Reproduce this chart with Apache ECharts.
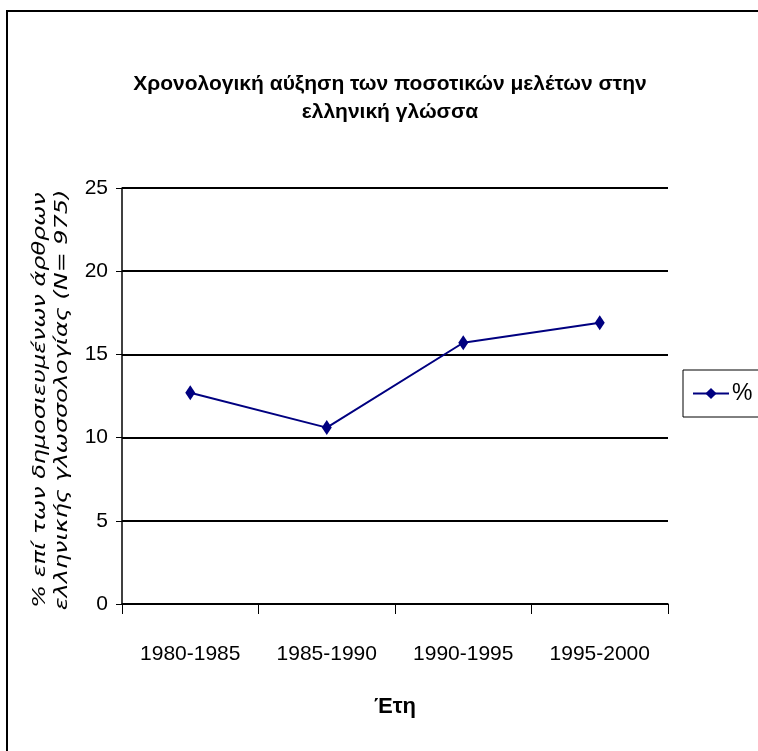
<!DOCTYPE html>
<html>
<head>
<meta charset="utf-8">
<script src="https://cdn.jsdelivr.net/npm/echarts@6/dist/echarts.min.js"></script>
<style>
  html, body { margin: 0; padding: 0; background: #fff; }
  #main { width: 758px; height: 751px; }
</style>
</head>
<body>
<div id="main"></div>
<script>
  // data
  const periods = ["1980-1985", "1985-1990", "1990-1995", "1995-2000"];
  const percentValues = [12.7, 10.6, 15.7, 16.9];
  const seriesName = "%";
  const yTitle = "% επί των δημοσιευμένων άρθρων\nελληνικής γλωσσολογίας (N= 975)";

  const sans = "'Liberation Sans', Arial, sans-serif";
  const navy = "#000080";

  var myChart = echarts.init(document.getElementById("main"));

  var option = {
    backgroundColor: "#fff",
    animation: false,
    title: {
      text: "Χρονολογική αύξηση των ποσοτικών μελέτων στην\nελληνική γλώσσα",
      left: 385,
      textAlign: "center",
      top: 65,
      textStyle: {
        fontFamily: sans,
        fontWeight: "bold",
        fontSize: 21,
        lineHeight: 28,
        color: "#000",
      },
    },
    legend: {
      data: [seriesName],
      left: 683,
      top: 370,
      orient: "vertical",
      itemWidth: 36,
      itemHeight: 14,
      itemGap: 0,
      padding: [12, 20, 12, 9],
      borderColor: "#000",
      borderWidth: 1,
      textStyle: { fontFamily: sans, fontSize: 23, color: "#000", padding: [0, 0, 0, -2] },
    },
    grid: { left: 122, right: 90, top: 188, bottom: 147, containLabel: false },
    xAxis: {
      type: "category",
      data: periods,
      boundaryGap: true,
      name: "Έτη",
      nameLocation: "middle",
      nameGap: 92,
      nameTextStyle: { fontFamily: sans, fontWeight: "bold", fontSize: 22, color: "#000" },
      axisLine: { lineStyle: { color: "#000", width: 1.5 } },
      axisTick: { show: true, interval: 0, length: 10, lineStyle: { color: "#000" } },
      axisLabel: { interval: 0, fontFamily: sans, fontSize: 21, color: "#000", margin: 40 },
    },
    yAxis: {
      type: "value",
      min: 0,
      max: 25,
      interval: 5,
      axisLine: { show: true, lineStyle: { color: "#000", width: 1.5 } },
      axisTick: { show: true, length: 6, lineStyle: { color: "#000" } },
      axisLabel: { fontFamily: sans, fontSize: 21, color: "#000", margin: 14 },
      splitLine: { lineStyle: { color: "#000", width: 2 } },
    },
    series: [
      {
        name: seriesName,
        type: "line",
        data: percentValues,
        symbol: "diamond",
        symbolSize: [10, 15],
        itemStyle: { color: navy },
        lineStyle: { color: navy, width: 2 },
      },
    ],
    graphic: [
      {
        type: "rect",
        shape: { x: 7, y: 11, width: 800, height: 800 },
        style: { fill: "none", stroke: "#000", lineWidth: 2 },
        silent: true,
      },
      {
        // y axis title, stretched along its length like the original
        type: "text",
        x: 51,
        y: 400,
        rotation: Math.PI / 2,
        scaleX: 1.33,
        style: {
          text: yTitle,
          font: "italic 18px 'DejaVu Sans', sans-serif",
          lineHeight: 22,
          align: "center",
          verticalAlign: "middle",
          fill: "#000",
        },
        silent: true,
      },
    ],
  };

  myChart.setOption(option);
</script>
</body>
</html>
